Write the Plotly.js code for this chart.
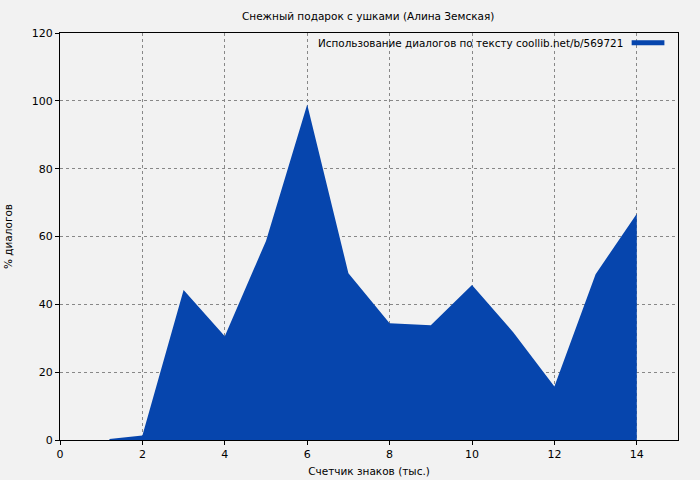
<!DOCTYPE html>
<html>
<head>
<meta charset="utf-8">
<script src="https://cdn.plot.ly/plotly-3.0.1.min.js"></script>
<style>html,body{margin:0;padding:0;background:#f2f2f2;}#chart{width:700px;height:480px;}</style>
</head>
<body>
<div id="chart"></div>
<script>
const xValues = [1.2, 1.4, 1.6, 1.8, 2, 3, 4, 5, 6, 7, 8, 9, 10, 11, 12, 13, 14];
const dialogPercent = [0.3, 0.5, 0.8, 1.0, 1.3, 44.2, 30.6, 58.7, 98.9, 49.2, 34.4, 33.8, 45.7, 31.8, 15.8, 48.9, 66.7];
const chartTitle = 'Снежный подарок с ушками (Алина Земская)';
const seriesName = 'Использование диалогов по тексту coollib.net/b/569721';
const xTitle = 'Счетчик знаков (тыс.)';
const yTitle = '% диалогов';
const xTicks = [0, 2, 4, 6, 8, 10, 12, 14];
const yTicks = [0, 20, 40, 60, 80, 100, 120];

const blue = '#0645AD';
const font = 'DejaVu Sans, sans-serif';

const traces = [{
  x: xValues, y: dialogPercent, type: 'scatter', mode: 'lines',
  fill: 'tozeroy', fillcolor: blue, line: {color: blue, width: 0},
  showlegend: false, hoverinfo: 'skip'
}];

const axisCommon = {
  showline: true, linecolor: '#000', linewidth: 1, mirror: true,
  ticks: 'outside', ticklen: 4, tickcolor: '#000', tickwidth: 1,
  showgrid: true, gridcolor: '#888', griddash: 'dot', gridwidth: 1,
  zeroline: false, tickfont: {family: font, size: 11, color: '#000'}
};

const layout = {
  width: 700, height: 480,
  paper_bgcolor: '#f2f2f2', plot_bgcolor: '#f2f2f2',
  margin: {l: 60, r: 22, t: 33, b: 40},
  title: {text: chartTitle, font: {family: font, size: 10.5, color: '#000'}, x: 0.526, xanchor: 'center', y: 0.967, yanchor: 'middle'},
  xaxis: Object.assign({}, axisCommon, {range: [0, 15], tickvals: xTicks,
    title: {text: xTitle, font: {family: font, size: 10.5, color: '#000'}, standoff: 7}}),
  yaxis: Object.assign({}, axisCommon, {range: [0, 120], tickvals: yTicks,
    title: {text: yTitle, font: {family: font, size: 10.5, color: '#000'}, standoff: 17}}),
  showlegend: false,
  annotations: [{
    text: seriesName, xref: 'paper', yref: 'paper', x: 0.915, y: 0.976,
    xanchor: 'right', yanchor: 'middle', showarrow: false,
    font: {family: font, size: 10.4, color: '#000'}
  }],
  shapes: [{
    type: 'line', xref: 'paper', yref: 'paper', x0: 0.925, x1: 0.978, y0: 0.976, y1: 0.976,
    line: {color: blue, width: 5}
  }]
};

Plotly.newPlot('chart', traces, layout, {displayModeBar: false, staticPlot: true});
</script>
</body>
</html>
